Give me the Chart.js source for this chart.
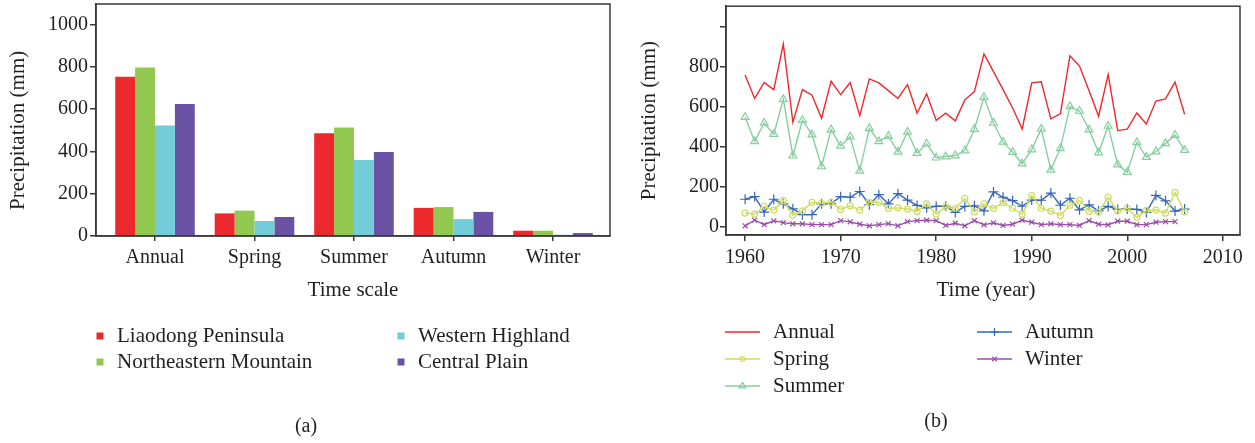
<!DOCTYPE html>
<html>
<head>
<meta charset="utf-8">
<title>Precipitation by region and season</title>
<script src="https://cdn.jsdelivr.net/npm/chart.js@4.4.1/dist/chart.umd.min.js"></script>
<style>
  html, body { margin: 0; padding: 0; background: #ffffff; }
  #page { position: relative; width: 1255px; height: 443px; overflow: hidden; }
  #panelA { position: absolute; left: 0; top: 0; width: 620px; height: 443px; }
  #panelB { position: absolute; left: 620px; top: 0; width: 635px; height: 443px; }
</style>
</head>
<body>
<div id="page">
  <div id="panelA"><canvas id="barChart"></canvas></div>
  <div id="panelB"><canvas id="lineChart"></canvas></div>
</div>
<script>
// ---- (a) mean precipitation per region and time scale ----
const timeScales = ['Annual', 'Spring', 'Summer', 'Autumn', 'Winter'];
const liaodongPeninsula = [754, 107, 486, 133, 25];
const northeasternMountain = [798, 120, 514, 137, 25];
const westernHighland = [523, 71, 360, 80, 6];
const centralPlain = [625, 90, 398, 114, 14];
const barYTicks = [0, 200, 400, 600, 800, 1000];

// ---- (b) yearly precipitation series ----
const years = [
  1960, 1961, 1962, 1963, 1964, 1965, 1966, 1967, 1968, 1969,
  1970, 1971, 1972, 1973, 1974, 1975, 1976, 1977, 1978, 1979,
  1980, 1981, 1982, 1983, 1984, 1985, 1986, 1987, 1988, 1989,
  1990, 1991, 1992, 1993, 1994, 1995, 1996, 1997, 1998, 1999,
  2000, 2001, 2002, 2003, 2004, 2005, 2006
];
const annual = [
  760, 643, 723, 687, 915, 523, 687, 659, 544, 730,
  662, 723, 557, 741, 721, 682, 643, 713, 569, 666,
  533, 569, 531, 636, 677, 866, 777, 687, 595, 490,
  721, 726, 541, 566, 857, 805, 682, 554, 762, 482,
  489, 570, 515, 630, 641, 725, 564
];
const spring = [
  69, 64, 103, 84, 131, 59, 80, 123, 118, 123,
  87, 105, 84, 123, 123, 92, 95, 89, 77, 115,
  64, 100, 93, 143, 74, 115, 92, 121, 93, 64,
  156, 93, 79, 57, 108, 131, 77, 74, 148, 80,
  93, 48, 82, 84, 69, 172, 74
];
const summer = [
  549, 428, 520, 464, 639, 356, 534, 462, 302, 487,
  405, 451, 280, 493, 428, 454, 375, 475, 369, 416,
  346, 352, 357, 382, 489, 649, 520, 425, 374, 316,
  387, 490, 285, 393, 603, 580, 487, 372, 505, 311,
  274, 423, 349, 377, 418, 459, 384
];
const autumn = [
  138, 151, 74, 138, 115, 90, 61, 61, 115, 116,
  151, 148, 177, 111, 161, 115, 166, 134, 107, 95,
  103, 103, 72, 102, 105, 80, 175, 148, 131, 103,
  134, 133, 169, 108, 143, 85, 110, 80, 102, 87,
  89, 87, 72, 157, 130, 79, 89
];
const winter = [
  5, 33, 11, 30, 21, 15, 15, 11, 11, 11,
  31, 25, 13, 5, 11, 16, 5, 26, 31, 33,
  31, 7, 18, 5, 31, 10, 20, 7, 13, 33,
  23, 11, 15, 11, 11, 7, 31, 13, 10, 28,
  28, 11, 11, 23, 26, 26
];
const lineXTicks = [1960, 1970, 1980, 1990, 2000, 2010];
const lineYTicks = [0, 200, 400, 600, 800, 1000];
const lineYTickLabels = ['0', '200', '400', '600', '800', ''];

// ---- shared styling ----
const SERIF = '"Liberation Serif", "DejaVu Serif", serif';
const INK = '#231f20';
const AXIS = '#3a3a3a';
const TICK_FONT = { family: SERIF, size: 20 };

const regions = [
  { name: 'Liaodong Peninsula', values: liaodongPeninsula, color: '#ec2a2e' },
  { name: 'Northeastern Mountain', values: northeasternMountain, color: '#92c850' },
  { name: 'Western Highland', values: westernHighland, color: '#72ccd8' },
  { name: 'Central Plain', values: centralPlain, color: '#6a53a4' }
];

const seasons = [
  { name: 'Annual', values: annual, color: '#f0282d', style: false, radius: 0 },
  { name: 'Spring', values: spring, color: '#cfdc5e', style: 'circle', radius: 3 },
  { name: 'Summer', values: summer, color: '#86cf9e', style: 'triangle', radius: 4.5 },
  { name: 'Autumn', values: autumn, color: '#3566b8', style: 'cross', radius: 5 },
  { name: 'Winter', values: winter, color: '#9a4ea8', style: 'crossRot', radius: 3.5 }
];

// Fix an axis box to a set thickness so the plot area sits where the frame is.
function fixedBox(size) {
  return function (scale) {
    if (scale.isHorizontal()) { scale.height = size; } else { scale.width = size; }
    scale.paddingTop = 0; scale.paddingBottom = 0;
    scale.paddingLeft = 0; scale.paddingRight = 0;
  };
}

function outwardTicks(len) {
  return { display: true, drawOnChartArea: false, drawTicks: true, tickLength: len,
           color: AXIS, lineWidth: 1.5, offset: false };
}

// Closed box round the plot area.
const framePlugin = {
  id: 'frame',
  afterDatasetsDraw(chart) {
    const a = chart.chartArea, ctx = chart.ctx;
    ctx.save();
    ctx.strokeStyle = AXIS;
    ctx.lineWidth = 1.5;
    ctx.strokeRect(a.left, a.top, a.right - a.left, a.bottom - a.top);
    ctx.restore();
  }
};

function drawMarker(ctx, style, x, y, r) {
  ctx.beginPath();
  if (style === 'circle') {
    ctx.arc(x, y, r, 0, Math.PI * 2);
  } else if (style === 'triangle') {
    const h = r * 1.5;
    ctx.moveTo(x, y - r);
    ctx.lineTo(x + r * 0.95, y + h - r);
    ctx.lineTo(x - r * 0.95, y + h - r);
    ctx.closePath();
  } else if (style === 'cross') {
    ctx.moveTo(x - r, y); ctx.lineTo(x + r, y);
    ctx.moveTo(x, y - r); ctx.lineTo(x, y + r);
  } else if (style === 'crossRot') {
    const d = r * 0.8;
    ctx.moveTo(x - d, y - d); ctx.lineTo(x + d, y + d);
    ctx.moveTo(x - d, y + d); ctx.lineTo(x + d, y - d);
  }
  ctx.stroke();
}

function verticalTitle(ctx, text, x, y, size) {
  ctx.save();
  ctx.translate(x, y);
  ctx.rotate(-Math.PI / 2);
  ctx.font = size + 'px ' + SERIF;
  ctx.fillStyle = INK;
  ctx.textAlign = 'center';
  ctx.textBaseline = 'middle';
  ctx.fillText(text, 0, 0);
  ctx.restore();
}

function label(ctx, text, x, y, size, align) {
  ctx.font = size + 'px ' + SERIF;
  ctx.fillStyle = INK;
  ctx.textAlign = align || 'center';
  ctx.textBaseline = 'middle';
  ctx.fillText(text, x, y);
}

// Titles, legend and caption of panel (a).
const barTexts = {
  id: 'barTexts',
  afterDraw(chart) {
    const ctx = chart.ctx, a = chart.chartArea, ys = chart.scales.y;
    ctx.save();
    const midY = (ys.getPixelForValue(barYTicks[0]) + ys.getPixelForValue(barYTicks[barYTicks.length - 1])) / 2;
    verticalTitle(ctx, 'Precipitation (mm)', 18, midY, 21);
    label(ctx, 'Time scale', (a.left + a.right) / 2, 290, 21);
    const cols = [100, 401], rows = [336, 362];
    regions.forEach((r, i) => {
      const cx = cols[Math.floor(i / 2)], cy = rows[i % 2];
      ctx.fillStyle = r.color;
      ctx.fillRect(cx - 3.5, cy - 3.5, 7, 7);
      label(ctx, r.name, cx + 17, cy, 21, 'left');
    });
    label(ctx, '(a)', 306, 427, 20);
    ctx.restore();
  }
};

// Titles, legend and caption of panel (b).
const lineTexts = {
  id: 'lineTexts',
  afterDraw(chart) {
    const ctx = chart.ctx, a = chart.chartArea;
    ctx.save();
    verticalTitle(ctx, 'Precipitation (mm)', 29, (a.top + a.bottom) / 2, 21);
    label(ctx, 'Time (year)', (a.left + a.right) / 2 + 3, 290, 21);
    const cols = [105, 357], rows = [332, 359, 386];
    seasons.forEach((s, i) => {
      const col = i < 3 ? 0 : 1, row = i < 3 ? i : i - 3;
      const x0 = cols[col], y = rows[row];
      ctx.strokeStyle = s.color;
      ctx.lineWidth = 1.5;
      ctx.beginPath(); ctx.moveTo(x0, y); ctx.lineTo(x0 + 35, y); ctx.stroke();
      if (s.style) { ctx.lineWidth = 1.2; drawMarker(ctx, s.style, x0 + 17.5, y, s.radius * 0.8); }
      label(ctx, s.name, x0 + 48, y, 21, 'left');
    });
    label(ctx, '(b)', 316, 422, 20);
    ctx.restore();
  }
};

new Chart(document.getElementById('barChart'), {
  type: 'bar',
  data: {
    datasets: regions.map(r => ({
      label: r.name,
      data: timeScales.map((c, i) => ({ x: i, y: r.values[i] })),
      backgroundColor: r.color,
      borderWidth: 0,
      categoryPercentage: 0.8,
      barPercentage: 1.0
    }))
  },
  options: {
    responsive: true,
    maintainAspectRatio: false,
    animation: false,
    devicePixelRatio: 1,
    layout: { padding: { left: 0, right: 10, top: 4, bottom: 0 } },
    plugins: { legend: { display: false }, tooltip: { enabled: false }, title: { display: false } },
    scales: {
      x: {
        type: 'linear', min: -0.593, max: 4.573, offset: false,
        afterBuildTicks: s => { s.ticks = timeScales.map((c, i) => ({ value: i })); },
        afterFit: fixedBox(207),
        grid: outwardTicks(5),
        border: { display: true, color: AXIS, width: 1.5 },
        ticks: { autoSkip: false, maxRotation: 0, padding: 5, color: INK, font: TICK_FONT,
                 callback: v => timeScales[v] }
      },
      y: {
        min: 0, max: 1098,
        afterBuildTicks: s => { s.ticks = barYTicks.map(v => ({ value: v })); },
        afterFit: fixedBox(96),
        grid: outwardTicks(6),
        border: { display: true, color: AXIS, width: 1.5 },
        ticks: { padding: 2, color: INK, font: TICK_FONT, callback: v => String(v) }
      }
    }
  },
  plugins: [framePlugin, barTexts]
});

new Chart(document.getElementById('lineChart'), {
  type: 'line',
  data: {
    datasets: seasons.map(s => ({
      label: s.name,
      data: s.values.map((v, i) => ({ x: years[i], y: v })),
      borderColor: s.color,
      backgroundColor: 'rgba(255,255,255,0)',
      borderWidth: 1.4,
      tension: 0,
      fill: false,
      pointStyle: s.style || 'circle',
      pointRadius: s.radius,
      pointBorderColor: s.color,
      pointBackgroundColor: 'rgba(255,255,255,0)',
      pointBorderWidth: 1.2
    }))
  },
  options: {
    responsive: true,
    maintainAspectRatio: false,
    animation: false,
    devicePixelRatio: 1,
    layout: { padding: { left: 0, right: 15, top: 3, bottom: 0 } },
    plugins: { legend: { display: false }, tooltip: { enabled: false }, title: { display: false } },
    scales: {
      x: {
        type: 'linear', min: 1958.0, max: 2011.8,
        afterBuildTicks: s => { s.ticks = lineXTicks.map(v => ({ value: v })); },
        afterFit: fixedBox(208),
        grid: outwardTicks(6),
        border: { display: true, color: AXIS, width: 1.5 },
        ticks: { autoSkip: false, maxRotation: 0, padding: 5, color: INK, font: TICK_FONT,
                 callback: v => String(v) }
      },
      y: {
        type: 'linear', min: -41, max: 1105,
        afterBuildTicks: s => { s.ticks = lineYTicks.map(v => ({ value: v })); },
        afterFit: fixedBox(106),
        grid: outwardTicks(6),
        border: { display: true, color: AXIS, width: 1.5 },
        ticks: { padding: 1, color: INK, font: TICK_FONT,
                 callback: (v, i) => lineYTickLabels[i] }
      }
    }
  },
  plugins: [framePlugin, lineTexts]
});
</script>
</body>
</html>
